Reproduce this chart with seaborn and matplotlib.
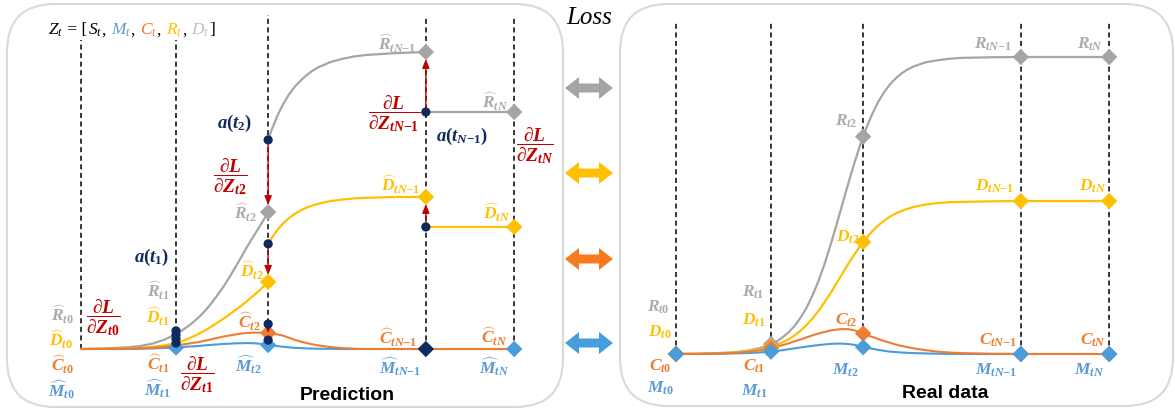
import matplotlib
matplotlib.use("Agg")
import matplotlib.pyplot as plt
import seaborn as sns
from matplotlib.patches import FancyBboxPatch, FancyArrow
from matplotlib.offsetbox import TextArea, HPacker, AnnotationBbox

sns.set_theme(style="white")
plt.rcParams.update({
    "mathtext.fontset": "custom",
    "mathtext.it": "Liberation Serif:italic:bold",
    "mathtext.rm": "Liberation Serif:bold",
    "mathtext.bf": "Liberation Serif:bold",
    "mathtext.sf": "Liberation Serif:italic",
    "mathtext.tt": "Liberation Serif",
})
plt.rcParams["font.family"] = ["Liberation Sans", "DejaVu Sans"]

# ---------------------------------------------------------------- data
# observation times t0, t1, t2, tN-1, tN
knots = [0.0, 1.0, 1.97, 3.63, 4.56]

# sampling times of the curves
t_first = [0, 0.25, 0.5, 0.625, 0.75, 0.875, 1.0, 1.0625, 1.125, 1.1875, 1.25,
           1.3125, 1.375, 1.4375, 1.5, 1.5625, 1.625, 1.6875, 1.75, 1.8125,
           1.875, 1.9375, 1.97]
t_second = [1.97, 2.0, 2.0625, 2.125, 2.1875, 2.25, 2.3125, 2.375, 2.4375, 2.5,
            2.625, 2.75, 2.875, 3.0, 3.3, 3.63]
t_full = t_first + t_second[1:] + [4.56]

# real data (compartments M, C, R, D)
R_real = [0, 0.1, 0.4, 0.6, 1.1, 1.9, 3.3, 4.3, 5.7, 7.4, 9.5, 12.3, 15.6, 19.8,
          24.6, 30.2, 36.5, 43.3, 50.3, 57.3, 64.0, 70.3, 73.2,
          75.8, 80.6, 84.7, 88.0, 90.7, 92.8, 94.5, 95.8, 96.8, 98.2, 98.9, 99.4,
          99.7, 99.9, 100, 100]
D_real = [0, 0.1, 0.3, 0.5, 0.9, 1.5, 2.4, 3.1, 4.0, 5.0, 6.3, 7.9, 9.8, 12.0,
          14.5, 17.4, 20.4, 23.7, 27.0, 30.3, 33.4, 36.3, 37.7,
          38.9, 41.2, 43.2, 44.8, 46.2, 47.3, 48.2, 48.9, 49.5, 50.3, 50.8, 51.1,
          51.2, 51.4, 51.5, 51.5]
C_real = [0, 0.05, 0.2, 0.4, 0.7, 1.2, 2.0, 2.5, 3.0, 3.6, 4.3, 4.9, 5.6, 6.3,
          6.9, 7.4, 7.9, 8.2, 8.4, 8.35, 8.0, 7.3, 6.9,
          6.5, 5.8, 5.1, 4.4, 3.8, 3.2, 2.7, 2.3, 1.9, 1.3, 0.8, 0.5, 0.3, 0.1, 0, 0]
M_real = [0, 0, 0.1, 0.2, 0.3, 0.5, 0.8, 1.05, 1.3, 1.6, 1.9, 2.2, 2.5, 2.75,
          3.0, 3.2, 3.4, 3.5, 3.5, 3.35, 3.1, 2.6, 2.3,
          2.1, 1.8, 1.4, 1.1, 0.8, 0.65, 0.5, 0.4, 0.3, 0.2, 0.1, 0.05, 0, 0, 0, 0]

# predicted trajectories, restarted from the adjoint states
R_pred_1 = [0, 0.2, 0.6, 1.0, 1.8, 3.1, 5.0, 6.2, 7.6, 9.2, 11.0, 13.1, 15.5,
            18.2, 21.0, 24.2, 27.5, 31.0, 34.5, 37.8, 41.0, 44.3, 46.1]
D_pred_1 = [0, 0.05, 0.2, 0.4, 0.7, 1.2, 2.0, 2.6, 3.4, 4.3, 5.3, 6.4, 7.6, 8.9,
            10.2, 11.6, 13.1, 14.6, 16.2, 17.9, 19.6, 21.5, 22.6]
R_pred_2 = [70.4, 73.2, 78.2, 82.3, 85.6, 88.3, 90.4, 92.2, 93.7, 94.9, 96.6,
            97.7, 98.5, 99.0, 99.6, 100]
D_pred_2 = [35.4, 37.0, 39.9, 42.2, 44.0, 45.5, 46.7, 47.6, 48.3, 48.9, 49.8,
            50.3, 50.7, 50.9, 51.2, 51.2]
R_pred_3 = [79.8, 79.8]
D_pred_3 = [41.1, 41.1]
C_pred = [0, 0, 0.1, 0.2, 0.4, 0.7, 1.2, 1.5, 1.8, 2.1, 2.4, 2.85, 3.3, 3.75,
          4.2, 4.55, 4.9, 5.2, 5.4, 5.5, 5.5, 5.45, 5.4,
          5.25, 4.95, 4.5, 3.8, 3.1, 2.5, 2.0, 1.55, 1.2, 0.65, 0.3, 0.1, 0, 0, 0, 0]
M_pred = [0, 0, 0, 0.1, 0.2, 0.35, 0.5, 0.65, 0.8, 0.9, 1.05, 1.25, 1.4, 1.55,
          1.7, 1.8, 1.9, 1.95, 2.0, 1.95, 1.8, 1.5, 1.35,
          1.2, 1.0, 0.75, 0.55, 0.4, 0.3, 0.2, 0.15, 0.1, 0.05, 0, 0, 0, 0, 0, 0]

# adjoint states a(t)
a_t1 = [6.1, 4.7, 3.4, 2.0]
a_t2 = [70.4, 35.4, 8.4, 3.0]
a_tN1 = [79.8, 41.1]

# --------------------------------------------------------------- style
GRAY, GOLD, ORANGE, BLUE = "#A5A5A5", "#FFC000", "#ED7D31", "#4A9CDB"
GRAY_T, BLUE_T = "#ABABAB", "#5B9BD5"
NAVY, RED = "#0E2A5E", "#C00000"
DASH = (0, (3.3, 2.3))
W, H = 1175, 413
PX_T, PX_V = 95.0, 2.97
LAB = 12.5

fig = plt.figure(figsize=(W / 100, H / 100), dpi=100)

bg = fig.add_axes([0, 0, 1, 1])
bg.set_xlim(0, W)
bg.set_ylim(H, 0)
bg.axis("off")


def panel_axes(x0, y0):
    ax = fig.add_axes([0, 0, 1, 1])
    ax.set_xlim(-x0 / PX_T, (W - x0) / PX_T)
    ax.set_ylim((y0 - H) / PX_V, y0 / PX_V)
    ax.axis("off")
    ax.patch.set_alpha(0)
    return ax


axL = panel_axes(81, 349)
axR = panel_axes(676, 354)

top = fig.add_axes([0, 0, 1, 1])
top.set_xlim(0, W)
top.set_ylim(H, 0)
top.axis("off")
top.patch.set_alpha(0)

# panel frames
for (x, y, w, h) in [(7, 4, 556, 403), (620, 4, 553, 402)]:
    bg.add_patch(FancyBboxPatch((x, y), w, h, boxstyle="round,pad=0,rounding_size=48",
                                ec="#D9D9D9", fc="white", lw=1.5))

# loss arrows between panels
for yc, c in [(88, GRAY), (173, GOLD), (259, "#F77A1C"), (343, "#479EDD")]:
    for d in (24, -24):
        bg.add_patch(FancyArrow(589, yc, d, 0, width=9, head_width=22, head_length=14,
                                length_includes_head=True, color=c, lw=0))
bg.text(589, 18, "Loss", fontsize=18, family="Liberation Serif", style="italic",
        ha="center", va="center", color="black")

# dashed time markers
for ax, tops in [(axL, [104, 104, 112.5, 111.4, 111.4]), (axR, [111.4] * 5)]:
    for t, v in zip(knots, tops):
        ax.plot([t, t], [0, v], color="black", lw=1.1, ls=DASH, zorder=1)


def curve(ax, t, v, c, lw=1.6, z=2):
    sns.lineplot(x=t, y=v, color=c, lw=lw, ax=ax, sort=False, estimator=None, zorder=z)


def diamonds(ax, t, v, c, z=5):
    sns.scatterplot(x=t, y=v, marker="D", s=70, color=c, edgecolor="none", linewidth=0,
                    ax=ax, zorder=z)


# ---------------------------------------------------------- real data
idx = [0, 6, 22, 37, 38]
curve(axR, t_full, R_real, GRAY)
curve(axR, t_full, D_real, GOLD)
curve(axR, t_full, M_real, BLUE, lw=1.5)
curve(axR, t_full, C_real, ORANGE, lw=1.5)
for series, c in [(R_real, GRAY), (D_real, GOLD), (C_real, ORANGE), (M_real, BLUE)]:
    diamonds(axR, [t_full[i] for i in idx], [series[i] for i in idx], c)

# ---------------------------------------------------------- prediction
curve(axL, t_first, R_pred_1, GRAY)
curve(axL, t_second, R_pred_2, GRAY)
curve(axL, knots[3:], R_pred_3, GRAY)
curve(axL, t_first, D_pred_1, GOLD)
curve(axL, t_second, D_pred_2, GOLD)
curve(axL, knots[3:], D_pred_3, GOLD)
curve(axL, t_full, M_pred, BLUE, lw=1.5)
curve(axL, t_full, C_pred, ORANGE, lw=1.5)

diamonds(axL, knots[2:], [R_pred_1[-1], R_pred_2[-1], R_pred_3[-1]], GRAY)
diamonds(axL, knots[2:], [D_pred_1[-1], D_pred_2[-1], D_pred_3[-1]], GOLD)
diamonds(axL, [knots[2]], [C_pred[22]], ORANGE)
diamonds(axL, [knots[1], knots[2], knots[4]], [M_pred[6], M_pred[22], M_pred[38]], BLUE)
diamonds(axL, [knots[3]], [M_pred[37]], NAVY, z=7)


def adjoint(ax, t, vals):
    sns.scatterplot(x=[t] * len(vals), y=vals, marker="o", s=44, color=NAVY,
                    edgecolor="none", linewidth=0, ax=ax, zorder=8)


adjoint(axL, knots[1], a_t1)
adjoint(axL, knots[2], a_t2)
adjoint(axL, knots[3], a_tN1)

# gradient jumps
jumps = [(knots[2], a_t2[0], R_pred_1[-1]), (knots[2], a_t2[1], D_pred_1[-1]),
         (knots[2], a_t2[2], C_pred[22]),
         (knots[3], a_tN1[0], R_pred_2[-1]), (knots[3], a_tN1[1], D_pred_2[-1])]
for t, v0, v1 in jumps:
    axL.annotate("", xy=(t, v1), xytext=(t, v0), zorder=6,
                 arrowprops=dict(arrowstyle="-|>,head_length=0.45,head_width=0.18",
                                 color=RED, lw=1.0, shrinkA=3, shrinkB=5))

# ------------------------------------------------------------- labels


def lab(x, y, s, c, size=LAB):
    top.text(x, y, s, color=c, fontsize=size, ha="center", va="center")


hat_labels = [
    (62, 315, r"$\widehat{R}_{t0}$", GRAY_T), (61, 340, r"$\widehat{D}_{t0}$", GOLD),
    (62, 365, r"$\widehat{C}_{t0}$", ORANGE), (61, 390, r"$\widehat{M}_{t0}$", BLUE_T),
    (158, 291, r"$\widehat{R}_{t1}$", GRAY_T), (158, 317, r"$\widehat{D}_{t1}$", GOLD),
    (158, 364, r"$\widehat{C}_{t1}$", ORANGE), (157, 389, r"$\widehat{M}_{t1}$", BLUE_T),
    (245, 213, r"$\widehat{R}_{t2}$", GRAY_T), (252, 271, r"$\widehat{D}_{t2}$", GOLD),
    (249, 322, r"$\widehat{C}_{t2}$", ORANGE), (248, 365, r"$\widehat{M}_{t2}$", BLUE_T),
    (397, 44, r"$\widehat{R}_{tN{-}1}$", GRAY_T), (401, 185, r"$\widehat{D}_{tN{-}1}$", GOLD),
    (398, 338, r"$\widehat{C}_{tN{-}1}$", ORANGE), (400, 367, r"$\widehat{M}_{tN{-}1}$", BLUE_T),
    (495, 102, r"$\widehat{R}_{tN}$", GRAY_T), (497, 213, r"$\widehat{D}_{tN}$", GOLD),
    (494, 337, r"$\widehat{C}_{tN}$", ORANGE), (494, 367, r"$\widehat{M}_{tN}$", BLUE_T),
]
for x, y, s, c in hat_labels:
    lab(x, y, s, c)

grad_labels = [(103, 318, r"$\dfrac{\partial L}{\partial Z_{t0}}$"),
               (197, 375, r"$\dfrac{\partial L}{\partial Z_{t1}}$"),
               (230, 177, r"$\dfrac{\partial L}{\partial Z_{t2}}$"),
               (394, 114, r"$\dfrac{\partial L}{\partial Z_{tN{-}1}}$"),
               (535, 146, r"$\dfrac{\partial L}{\partial Z_{tN}}$")]
for x, y, s in grad_labels:
    lab(x, y, s, RED, size=14)

for x, y, s in [(152, 257, r"$a(t_1)$"), (235, 123, r"$a(t_2)$"),
                (462, 136, r"$a(t_{N{-}1})$")]:
    lab(x, y, s, NAVY, size=13.5)

real_labels = [
    (658, 307, r"$R_{t0}$", GRAY_T), (660, 332, r"$D_{t0}$", GOLD),
    (660, 366, r"$C_{t0}$", ORANGE), (660, 388, r"$M_{t0}$", BLUE_T),
    (753, 292, r"$R_{t1}$", GRAY_T), (754, 320, r"$D_{t1}$", GOLD),
    (754, 366, r"$C_{t1}$", ORANGE), (754, 391, r"$M_{t1}$", BLUE_T),
    (846, 121, r"$R_{t2}$", GRAY_T), (848, 237, r"$D_{t2}$", GOLD),
    (846, 320, r"$C_{t2}$", ORANGE), (845, 370, r"$M_{t2}$", BLUE_T),
    (993, 44, r"$R_{tN{-}1}$", GRAY_T), (995, 186, r"$D_{tN{-}1}$", GOLD),
    (998, 340, r"$C_{tN{-}1}$", ORANGE), (996, 370, r"$M_{tN{-}1}$", BLUE_T),
    (1090, 44, r"$R_{tN}$", GRAY_T), (1093, 186, r"$D_{tN}$", GOLD),
    (1093, 340, r"$C_{tN}$", ORANGE), (1089, 370, r"$M_{tN}$", BLUE_T),
]
for x, y, s, c in real_labels:
    lab(x, y, s, c)

top.text(347, 395, "Prediction", fontsize=14, weight="bold", ha="center", va="center",
         family="Liberation Sans", color="black")
top.text(945, 393, "Real data", fontsize=14, weight="bold", ha="center", va="center",
         family="Liberation Sans", color="black")

# state vector legend
serif = "Liberation Serif"
pieces = [(r"$\mathsf{Z_t}$", "black"), (" = [", "black"), (r"$\mathsf{S_t}$", "black"),
          (", ", "black"), (r"$\mathsf{M_t}$", BLUE_T), (", ", "black"),
          (r"$\mathsf{C_t}$", ORANGE), (", ", "black"), (r"$\mathsf{R_t}$", GOLD),
          (", ", "black"), (r"$\mathsf{D_t}$", "#BFBFBF"), ("]", "black")]
areas = [TextArea(s, textprops=dict(color=c, fontsize=12.5, family=serif)) for s, c in pieces]
pack = HPacker(children=areas, align="baseline", pad=0, sep=0)
top.add_artist(AnnotationBbox(pack, (48, 30), xycoords="data", box_alignment=(0, 0.5),
                              frameon=False, pad=0))

fig.savefig("out.png", dpi=100)
